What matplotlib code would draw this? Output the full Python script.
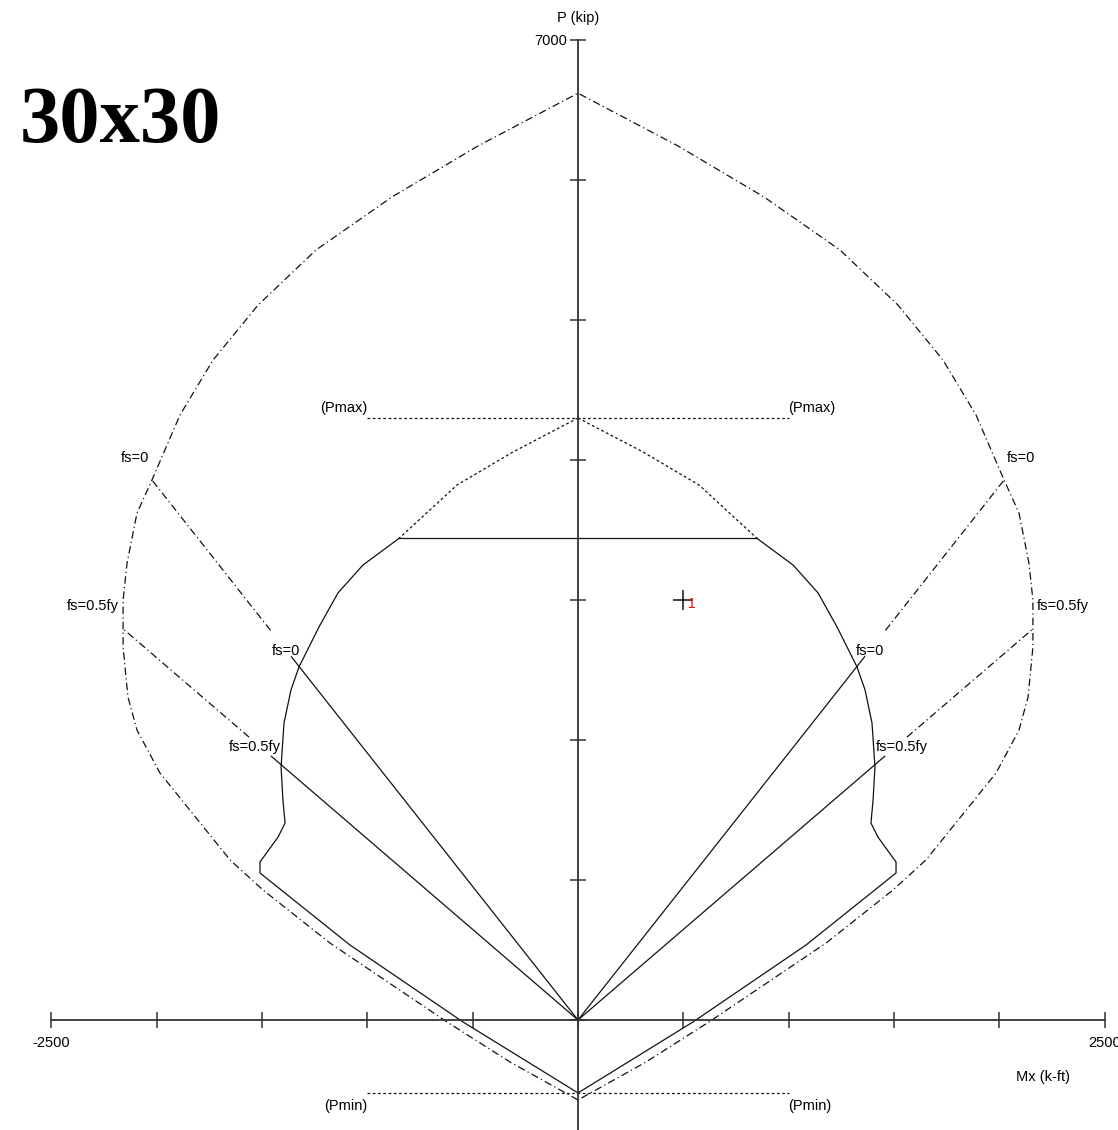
import numpy as np
import matplotlib
matplotlib.use("Agg")
import matplotlib.pyplot as plt

plt.rcParams["font.family"] = ["Liberation Sans", "DejaVu Sans"]

# Nominal strength envelope (Mn, Pn), right half from Po down to pure tension
nominal_m = [0, 475, 883, 1244, 1519, 1733, 1890, 2023, 2094, 2141, 2160, 2160,
             2160, 2137, 2094, 1985, 1652, 1496, 1178, 622, 323, 0]
nominal_p = [6620, 6243, 5879, 5500, 5107, 4714, 4321, 3857, 3621, 3264, 3000, 2814,
             2664, 2307, 2071, 1764, 1143, 929, 550, -14, -300, -571]

# Design strength envelope (phi*Mn, phi*Pn) below the Pn,max cap
design_m = [850, 1021, 1140, 1230, 1325, 1363, 1396, 1410, 1401, 1391, 1424, 1510,
            1510, 1083, 546, 0]
design_p = [3440, 3250, 3050, 2807, 2521, 2357, 2121, 1807, 1571, 1407, 1307, 1129,
            1050, 536, -14, -521]

# Uncapped design curve above the Pn,max cap
uncapped_m = [0, 309, 575, 850]
uncapped_p = [4300, 4057, 3821, 3440]

p_max = 4300
p_min = -521
p_cap = 3440
limit_m = 1000

# Strain-limit points on the nominal and design envelopes
fs_labels = ["fs=0", "fs=0.5fy"]
fs_nominal_m = [2023, 2165]
fs_nominal_p = [3857, 2800]
fs_design_m = [1315, 1407]
fs_design_p = [2507, 1820]

# Factored load
load_m = [500]
load_p = [3000]
load_ids = ["1"]

x_ticks = [-2500, -2000, -1500, -1000, -500, 0, 500, 1000, 1500, 2000, 2500]
x_ticklabels = ["-2500", "", "", "", "", "", "", "", "", "", "2500"]
y_ticks = [0, 1000, 2000, 3000, 4000, 5000, 6000, 7000]
y_ticklabels = ["", "", "", "", "", "", "", "7000"]

fig = plt.figure(figsize=(11.18, 11.30), dpi=100)
ax = fig.add_axes([0, 0, 1, 1])
ax.set_xlim(-2744.5, 2564.0)
ax.set_ylim(-785.7, 7285.7)

ink = "#111111"
dashdot = (0, (6, 2.6, 1, 2.6))
dotted = (0, (2.2, 2.0))
fs_txt = 10.5

# nominal envelope traced from the tension tip round the top and back
nm = np.asarray(nominal_m, float)
npv = np.asarray(nominal_p, float)
outline_m = np.concatenate([-nm[::-1], nm[1:]])
outline_p = np.concatenate([npv[::-1], npv[1:]])
ax.plot(outline_m, outline_p, color=ink, lw=0.9, ls=dashdot)

# design envelope, each side plus the flat cap
for s in (1, -1):
    ax.plot(s * np.asarray(design_m), design_p, color=ink, lw=0.9)
    ax.plot(s * np.asarray(uncapped_m), uncapped_p, color=ink, lw=0.9, ls=dotted)
ax.plot([-design_m[0], design_m[0]], [p_cap, p_cap], color=ink, lw=0.9)

# Pmax / Pmin limits
ax.plot([-limit_m, limit_m], [p_max, p_max], color=ink, lw=0.9, ls=dotted)
ax.plot([-limit_m, limit_m], [p_min, p_min], color=ink, lw=0.9, ls=dotted)
for s, ha in ((-1, "right"), (1, "left")):
    ax.text(s * limit_m, p_max + 70, "(Pmax)", ha=ha, va="center", fontsize=fs_txt)
    ax.text(s * limit_m, p_min - 90, "(Pmin)", ha=ha, va="center", fontsize=fs_txt)

# radial strain-limit lines from the origin
for lab, mn, pn, md, pd in zip(fs_labels, fs_nominal_m, fs_nominal_p,
                               fs_design_m, fs_design_p):
    for s, ha in ((-1, "right"), (1, "left")):
        ax.plot([0, s * md * 1.035], [0, pd * 1.035], color=ink, lw=0.9)
        ax.plot([s * md * 1.11, s * mn], [pd * 1.11, pn], color=ink, lw=0.9, ls=dashdot)
        ax.text(s * (mn + 15), pn + 160, lab, ha=ha, va="center", fontsize=fs_txt)
        ax.text(s * (md + 5), pd + 130, lab, ha=ha, va="center", fontsize=fs_txt)

# factored load point
ax.plot(load_m, load_p, ls="none", marker="+", ms=15, mew=1.1, color=ink)
for m, p, t in zip(load_m, load_p, load_ids):
    ax.text(m + 22, p + 25, t, color="red", fontsize=10, ha="left", va="top")

# axes through the origin
for side in ("top", "right"):
    ax.spines[side].set_visible(False)
ax.spines["left"].set_position(("data", 0))
ax.spines["bottom"].set_position(("data", 0))
ax.spines["left"].set_bounds(-785.7, 7000)
ax.spines["bottom"].set_bounds(-2500, 2500)
for side in ("left", "bottom"):
    ax.spines[side].set_color("#333333")
    ax.spines[side].set_linewidth(1.3)
ax.set_xticks(x_ticks, x_ticklabels)
ax.set_yticks(y_ticks, y_ticklabels)
ax.tick_params(axis="both", direction="inout", length=11, width=1.1,
               color="#333333", labelsize=fs_txt)
ax.tick_params(axis="x", pad=6)
ax.tick_params(axis="y", pad=2)
ax.set_facecolor("white")

ax.text(0, 7157, "P (kip)", ha="center", va="center", fontsize=fs_txt)
ax.text(2336, -407, "Mx (k-ft)", ha="right", va="center", fontsize=fs_txt)

# section title
ax.text(-2650, 6410, "30x30", family="Liberation Serif", weight="bold",
        fontsize=58, ha="left", va="center")

fig.savefig("out.png", dpi=100)
